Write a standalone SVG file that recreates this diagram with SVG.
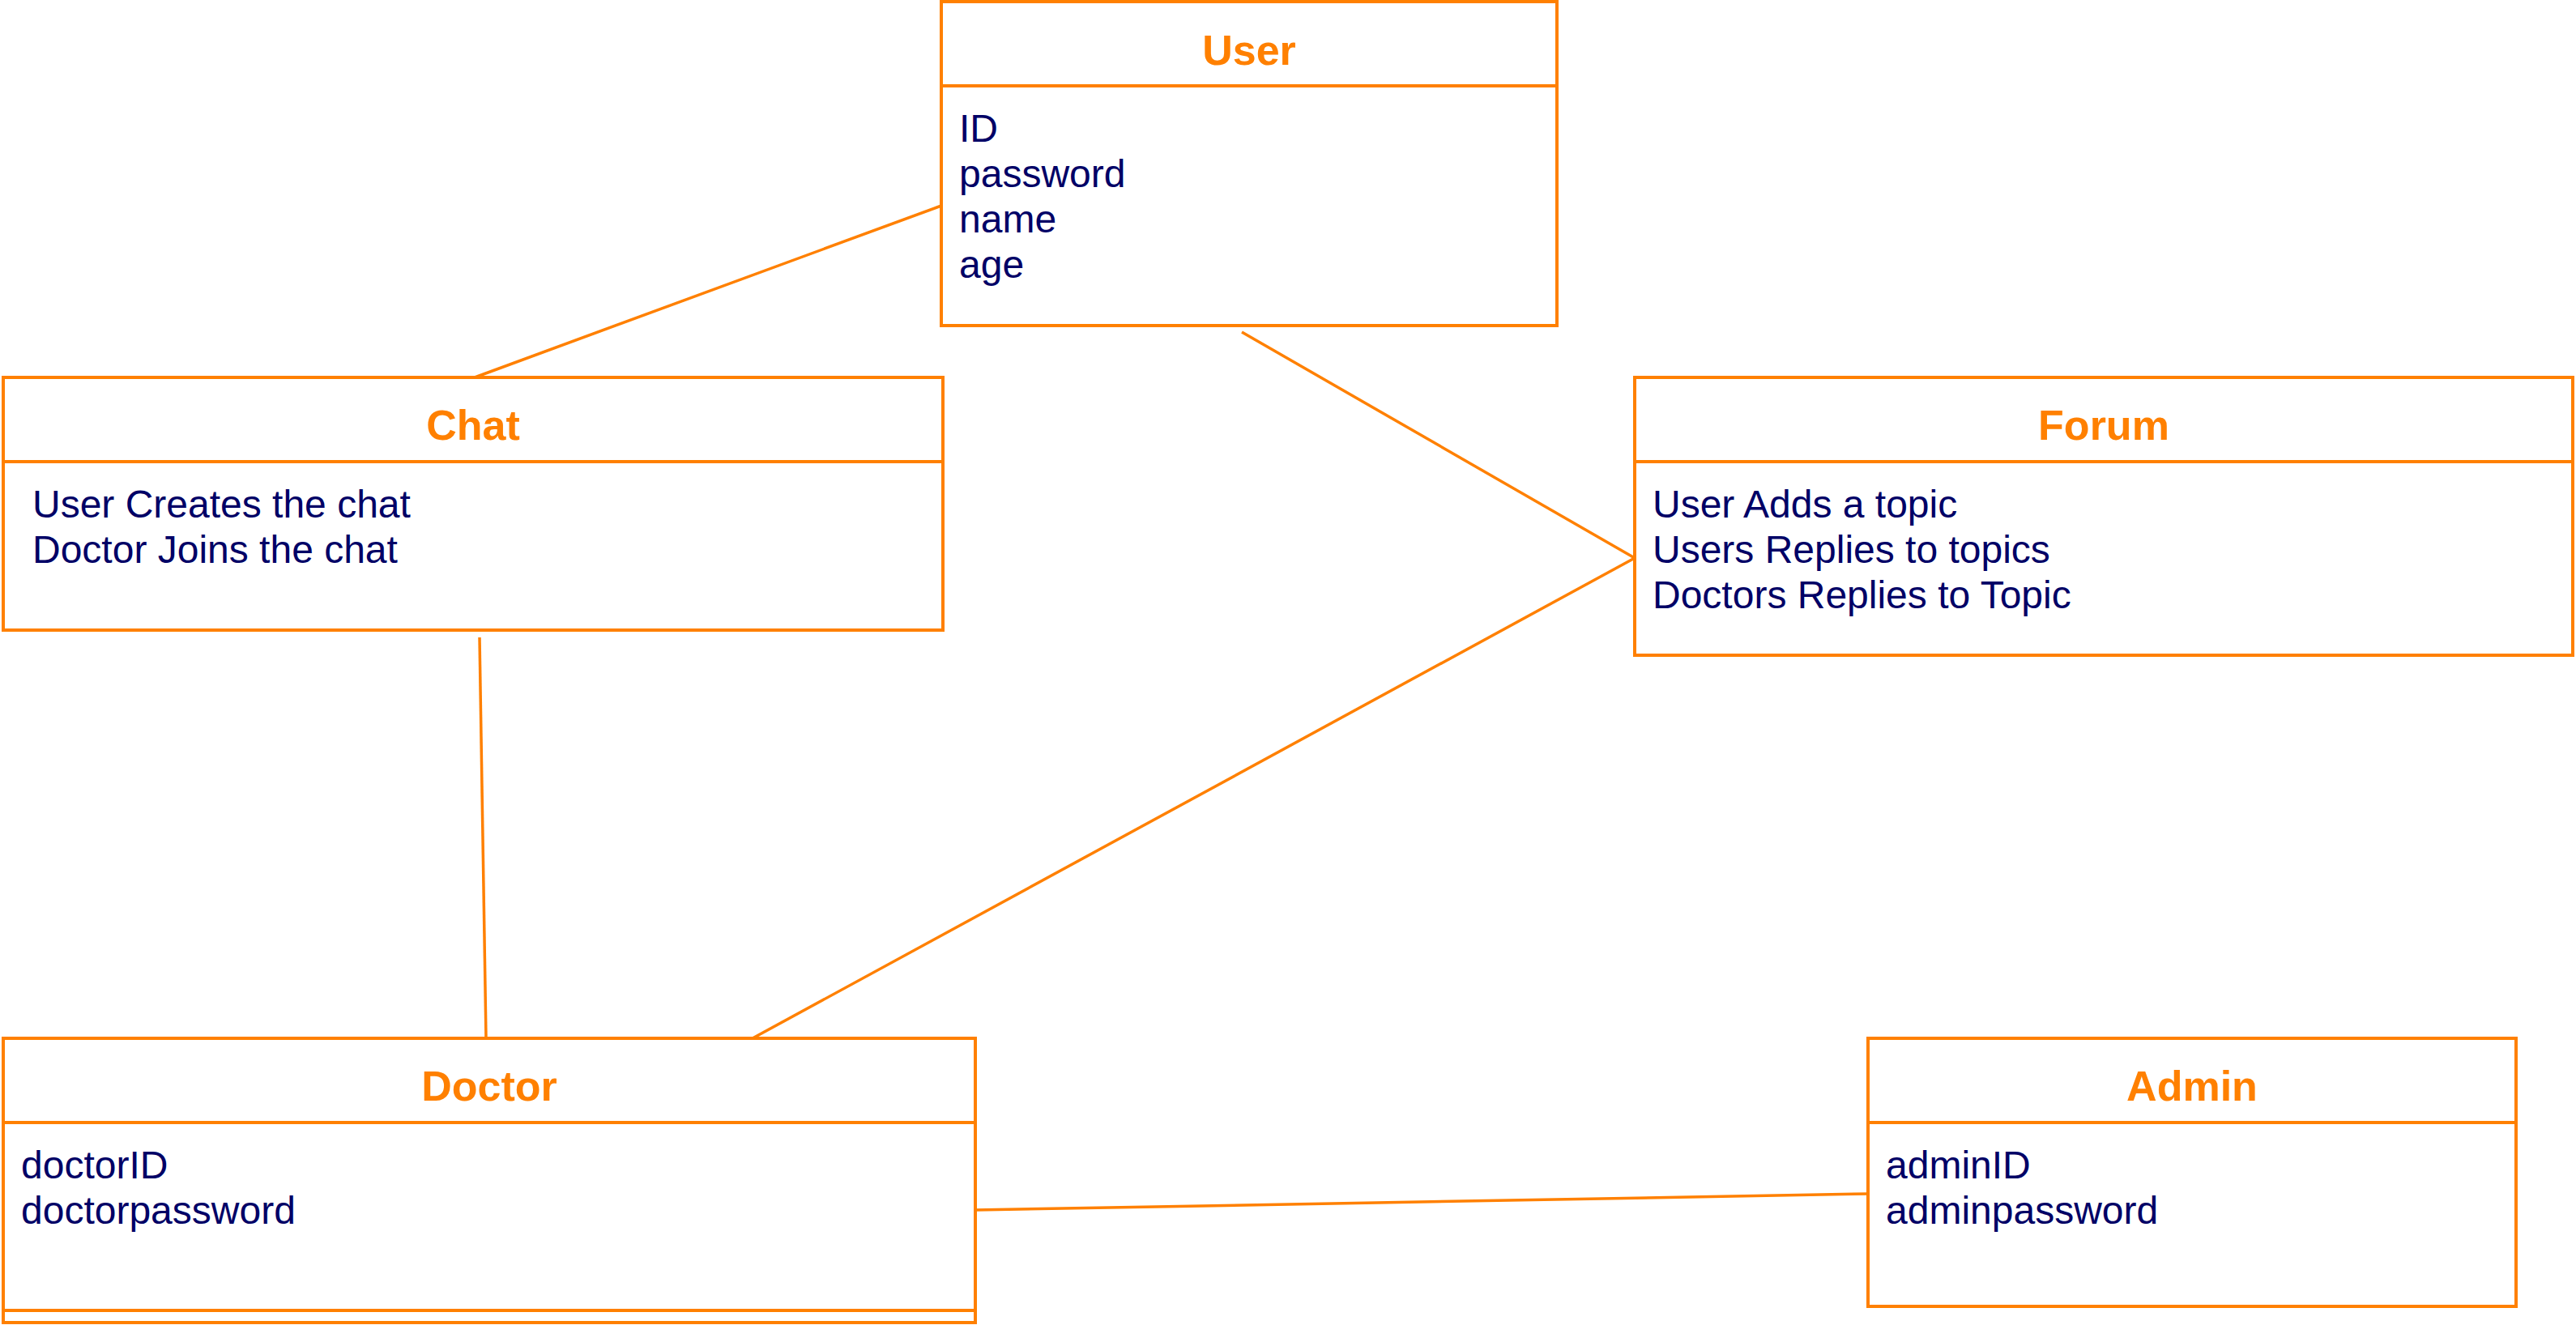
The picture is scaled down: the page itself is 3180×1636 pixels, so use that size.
<svg xmlns="http://www.w3.org/2000/svg" width="3180" height="1636" viewBox="0 0 3180 1636">
<style>
.box{fill:#ffffff;stroke:#ff8000;stroke-width:4}
.div{stroke:#ff8000;stroke-width:4}
.title{font-family:"Liberation Sans",Arial,sans-serif;font-weight:bold;font-size:52px;fill:#ff8000;text-anchor:middle}
.attr{font-family:"Liberation Sans",Arial,sans-serif;font-size:48px;fill:#000066}
.conn{stroke:#ff8000;stroke-width:3.5;fill:none}
</style>
<rect width="3180" height="1636" fill="#ffffff"/>
<g id="connectors">
<line class="conn" x1="1162" y1="254" x2="586" y2="466"/>
<line class="conn" x1="1533" y1="410" x2="2018" y2="689"/>
<line class="conn" x1="2018" y1="689" x2="929" y2="1282"/>
<line class="conn" x1="592" y1="787" x2="600" y2="1282"/>
<line class="conn" x1="1204" y1="1494" x2="2306" y2="1474"/>
</g>
<g id="user">
<rect class="box" x="1162" y="2" width="760" height="400"/>
<line class="div" x1="1162" y1="106" x2="1922" y2="106"/>
<text class="title" x="1542" y="80">User</text>
<text class="attr" x="1184" y="175">ID</text>
<text class="attr" x="1184" y="231">password</text>
<text class="attr" x="1184" y="287">name</text>
<text class="attr" x="1184" y="343">age</text>
</g>
<g id="chat">
<rect class="box" x="4" y="466" width="1160" height="312"/>
<line class="div" x1="4" y1="570" x2="1164" y2="570"/>
<text class="title" x="584" y="543">Chat</text>
<text class="attr" x="40" y="639">User Creates the chat</text>
<text class="attr" x="40" y="695">Doctor Joins the chat</text>
</g>
<g id="forum">
<rect class="box" x="2018" y="466" width="1158" height="343"/>
<line class="div" x1="2018" y1="570" x2="3176" y2="570"/>
<text class="title" x="2597" y="543">Forum</text>
<text class="attr" x="2040" y="639">User Adds a topic</text>
<text class="attr" x="2040" y="695">Users Replies to topics</text>
<text class="attr" x="2040" y="751">Doctors Replies to Topic</text>
</g>
<g id="doctor">
<rect class="box" x="4" y="1282" width="1200" height="351"/>
<line class="div" x1="4" y1="1386" x2="1204" y2="1386"/>
<line class="div" x1="4" y1="1618" x2="1204" y2="1618"/>
<text class="title" x="604" y="1359">Doctor</text>
<text class="attr" x="26" y="1455">doctorID</text>
<text class="attr" x="26" y="1511">doctorpassword</text>
</g>
<g id="admin">
<rect class="box" x="2306" y="1282" width="800" height="331"/>
<line class="div" x1="2306" y1="1386" x2="3106" y2="1386"/>
<text class="title" x="2706" y="1359">Admin</text>
<text class="attr" x="2328" y="1455">adminID</text>
<text class="attr" x="2328" y="1511">adminpassword</text>
</g>
</svg>
